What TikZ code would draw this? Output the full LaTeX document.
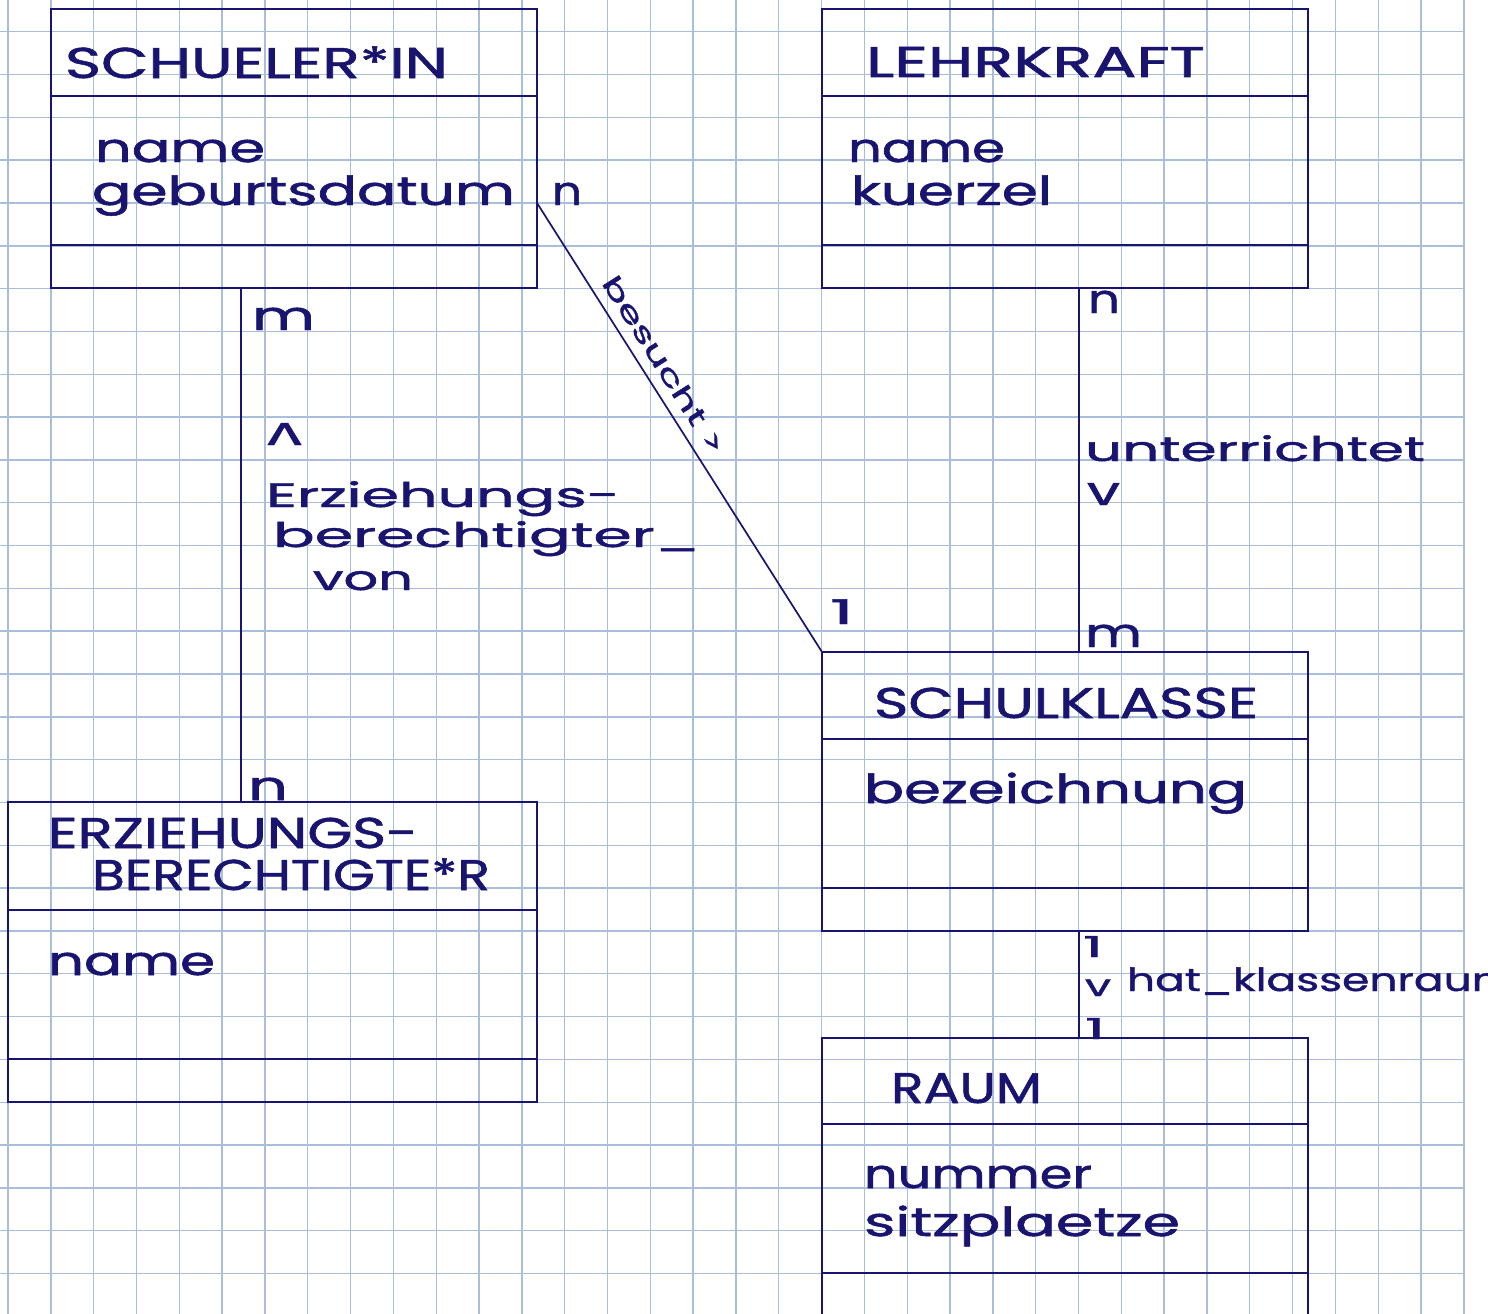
\documentclass[tikz,border=0pt]{standalone}
\usepackage{fontspec}
\usepackage{graphicx}
\newfontfamily\hand[FakeBold=1.2]{Poppins}
\definecolor{ink}{RGB}{25,20,112}
\definecolor{gridc}{RGB}{170,190,220}
\newsavebox\fitbox
\newcommand\fitw[2]{\sbox\fitbox{#2}\pgfmathsetmacro\fitr{#1/\the\wd\fitbox}\scalebox{\fitr}[1]{\usebox\fitbox}}
\tikzset{
  hand/.style={inner sep=0pt, outer sep=0pt, anchor=base west, text=ink, font=\hand\fontsize{#1}{#1}\selectfont},
  hand/.default=40,
  classbox/.style={draw=ink, line width=2pt, inner sep=0pt, outer sep=0pt},
  sepline/.style={draw=ink, line width=2pt},
  conn/.style={draw=ink, line width=1.7pt},
  gridline/.style={draw=gridc, line width=1.4pt},
}
\begin{document}
\begin{tikzpicture}[x=1pt,y=-1pt]
\useasboundingbox (0,0) rectangle (1488,1314);
\clip (0,0) rectangle (1488,1314);
\fill[white] (0,0) rectangle (1488,1314);
% grid
\foreach \k in {0,...,34} {\draw[gridline] ({8+42.82*\k},0) -- ({8+42.82*\k},1314);}
\foreach \k in {0,...,29} {\draw[gridline] (0,{31.7+42.82*\k}) -- (1464,{31.7+42.82*\k});}
% class boxes
\node[classbox, minimum width=486pt, minimum height=279pt] (schueler) at (294,148.5) {};
\node[classbox, minimum width=486pt, minimum height=279pt] (lehr) at (1065,148.5) {};
\node[classbox, minimum width=529pt, minimum height=300pt] (erz) at (272.5,952) {};
\node[classbox, minimum width=486pt, minimum height=279pt] (klasse) at (1065,791.5) {};
\node[classbox, minimum width=486pt, minimum height=292pt] (raum) at (1065,1184) {};
% separators
\draw[sepline] (schueler.west |- 0,96) -- (schueler.east |- 0,96);
\draw[sepline] (schueler.west |- 0,245) -- (schueler.east |- 0,245);
\draw[sepline] (lehr.west |- 0,96) -- (lehr.east |- 0,96);
\draw[sepline] (lehr.west |- 0,245) -- (lehr.east |- 0,245);
\draw[sepline] (erz.west |- 0,910) -- (erz.east |- 0,910);
\draw[sepline] (erz.west |- 0,1059) -- (erz.east |- 0,1059);
\draw[sepline] (klasse.west |- 0,739) -- (klasse.east |- 0,739);
\draw[sepline] (klasse.west |- 0,888) -- (klasse.east |- 0,888);
\draw[sepline] (raum.west |- 0,1124) -- (raum.east |- 0,1124);
\draw[sepline] (raum.west |- 0,1273) -- (raum.east |- 0,1273);
% connectors
\draw[conn] (schueler.south -| 241,0) -- (erz.north -| 241,0);
\draw[conn] (schueler.east |- 0,203) -- (klasse.north west);
\draw[conn] (lehr.south -| 1079,0) -- (klasse.north -| 1079,0);
\draw[conn] (klasse.south -| 1079,0) -- (raum.north -| 1079,0);
% class texts
\node[hand=43] (t1) at (65,78) {\fitw{383}{SCHUELER*IN}};
\node[hand] (a11) at (95,162) {\fitw{170}{name}};
\node[hand] (a12) at (92,205) {\fitw{423}{geburtsdatum}};
\node[hand=43] (t2) at (866,77) {\fitw{339}{LEHRKRAFT}};
\node[hand] (a21) at (848,162) {\fitw{157}{name}};
\node[hand] (a22) at (851,205) {\fitw{201}{kuerzel}};
\node[hand=43] (t3a) at (48,848) {\fitw{370}{ERZIEHUNGS-}};
\node[hand=43] (t3b) at (92,890) {\fitw{398}{BERECHTIGTE*R}};
\node[hand] (a31) at (48,975) {\fitw{167}{name}};
\node[hand=43] (t4) at (874,718) {\fitw{384}{SCHULKLASSE}};
\node[hand] (a41) at (864,803) {\fitw{383}{bezeichnung}};
\node[hand=43] (t5) at (891,1103) {\fitw{151}{RAUM}};
\node[hand] (a51) at (864,1188) {\fitw{228}{nummer}};
\node[hand] (a52) at (864,1236) {\fitw{316}{sitzplaetze}};
% association labels
\node[hand] (m1) at (552,205) {\fitw{30}{n}};
\node[hand] (m2) at (252,330) {\fitw{63}{m}};
\node[hand] (m3) at (248,800) {\fitw{40}{n}};
\node[hand] (m4) at (1088,313) {\fitw{32}{n}};
\node[hand] (m5) at (1085,647) {\fitw{57}{m}};
\node[hand=34] (m6) at (830,624) {\fitw{24}{1}};
\node[hand=29] (m7) at (1083,957) {\fitw{20}{1}};
\node[hand=29] (m8) at (1085,1039) {\fitw{20}{1}};
\node[hand] (r1) at (267,445) {\fitw{35}{\rotatebox[origin=c]{180}{v}}};
\node[hand=34] (l1a) at (266,507) {\fitw{354}{Erziehungs-}};
\node[hand=34] (l1b) at (273,547) {\fitw{427}{berechtigter\_}};
\node[hand=34] (l1c) at (313,590) {\fitw{100}{von}};
\node[hand=34] (l2) at (1085,461) {\fitw{340}{unterrichtet}};
\node[hand] (r2) at (1087,505) {\fitw{33}{v}};
\node[hand=30] (r3) at (1085,996) {\fitw{26}{v}};
\node[hand=32] (l3) at (1127,991) {\fitw{390}{hat\_klassenraum}};
\node[hand=26, rotate=-57.6] (l4) at (601,283) {\fitw{206}{besucht >}};
\end{tikzpicture}
\end{document}
